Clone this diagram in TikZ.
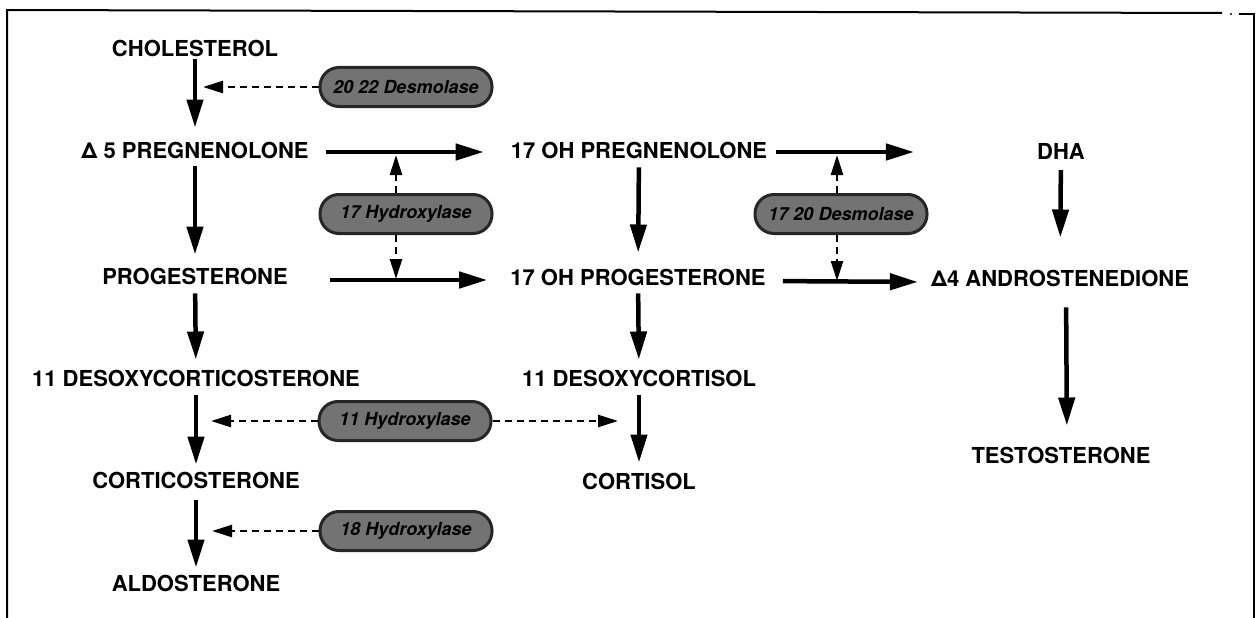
\documentclass[tikz,border=0pt]{standalone}
\usepackage{fontspec}
\setmainfont{TeX Gyre Heros}
\usetikzlibrary{arrows.meta}

\begin{document}
\begin{tikzpicture}[x=1pt,y=-1pt,
    chem/.style={font=\fontsize{22}{22}\selectfont\bfseries,inner sep=0pt},
    enz/.style={draw=black!85,line width=3pt,fill=black!55,rounded corners=19pt,
      minimum width=172pt,minimum height=39pt,inner sep=0pt,
      font=\fontsize{18}{18}\selectfont\bfseries\itshape},
    react/.style={line width=4.5pt,shorten <=9pt,shorten >=10pt,
      -{Triangle[length=28pt,width=16pt]}},
    cat/.style={line width=2.5pt,dash pattern=on 7pt off 5pt,
      -{Triangle[length=20pt,width=12pt]}}]
  \useasboundingbox (0,0) rectangle (1259,618);
  % frame
  \draw[line width=2pt] (7,618) -- (7,10) -- (1222,13);
  \draw[line width=2pt] (1239,14) -- (1254,14) -- (1254,618);
  \fill (1231,14) circle[radius=1.2pt];
  % steroids
  \node[chem] (chol) at (195,48) {CHOLESTEROL};
  \node[chem] (d5) at (195,150) {Δ 5 PREGNENOLONE};
  \node[chem] (ohpreg) at (639,150) {17 OH PREGNENOLONE};
  \node[chem] (dha) at (1061,151) {DHA};
  \node[chem] (prog) at (195,276) {PROGESTERONE};
  \node[chem] (ohprog) at (638,277) {17 OH PROGESTERONE};
  \node[chem] (andro) at (1060,278) {Δ4 ANDROSTENEDIONE};
  \node[chem] (doc) at (196,378) {11 DESOXYCORTICOSTERONE};
  \node[chem] (dcort) at (639,378) {11 DESOXYCORTISOL};
  \node[chem] (testo) at (1061,455) {TESTOSTERONE};
  \node[chem] (cortico) at (196,480) {CORTICOSTERONE};
  \node[chem] (cortisol) at (639,481) {CORTISOL};
  \node[chem] (aldo) at (196,583) {ALDOSTERONE};
  % enzymes
  \node[enz] (des2022) at (406,87) {20 22 Desmolase};
  \node[enz] (hyd17) at (406,214) {17 Hydroxylase};
  \node[enz] (des1720) at (841,214) {17 20 Desmolase};
  \node[enz] (hyd11) at (405,421) {11 Hydroxylase};
  \node[enz] (hyd18) at (406,531) {18 Hydroxylase};
  \coordinate (t2022) at (203,87);
  \coordinate (hup) at (396,155);
  \coordinate (hdn) at (396,279);
  \coordinate (dup) at (837,155);
  \coordinate (ddn) at (837,281);
  \coordinate (l11) at (211,421);
  \coordinate (r11) at (618,421);
  \coordinate (l18) at (212,531);
  % pathway
  \draw[react,shorten <=3pt,shorten >=14pt] (chol) -- (d5);
  \draw[react,shorten <=8pt,shorten >=13pt] (d5) -- (prog);
  \draw[react] (prog) -- (doc);
  \draw[react,shorten >=7pt] (doc) -- (cortico);
  \draw[react,shorten <=12pt,shorten >=7pt] (cortico) -- (aldo);
  \draw[react,shorten >=16pt] (ohpreg) -- (ohprog);
  \draw[react,shorten <=8pt] (ohprog) -- (dcort);
  \draw[react] (dcort) -- (cortisol);
  \draw[react,shorten <=11pt,shorten >=32pt] (dha) -- (andro);
  \draw[react,shorten <=21pt,shorten >=21pt] ([xshift=6pt]andro.south) -- ([xshift=6pt]testo.north);
  \draw[react,shorten <=17pt,shorten >=27pt] ([yshift=-2pt]d5.east) -- ([yshift=-2pt]ohpreg.west);
  \draw[react,shorten <=42pt,shorten >=23pt] ([yshift=-4pt]prog.east) -- ([yshift=-3pt]ohprog.west);
  \draw[react,shorten <=9pt,shorten >=123pt] ([yshift=-2pt]ohpreg.east) -- ([yshift=-1pt]dha.west);
  \draw[react,shorten <=17pt,shorten >=13pt] ([yshift=-4pt]ohprog.east) -- ([yshift=-4pt]andro.west);
  % enzyme actions
  \draw[cat] (des2022.west) -- (t2022);
  \draw[cat] (hyd17.north -| hup) -- (hup);
  \draw[cat] (hyd17.south -| hdn) -- (hdn);
  \draw[cat] (des1720.north -| dup) -- (dup);
  \draw[cat] (des1720.south -| ddn) -- (ddn);
  \draw[cat] (hyd11.west) -- (l11);
  \draw[cat] (hyd11.east) -- (r11);
  \draw[cat] (hyd18.west) -- (l18);
\end{tikzpicture}
\end{document}
